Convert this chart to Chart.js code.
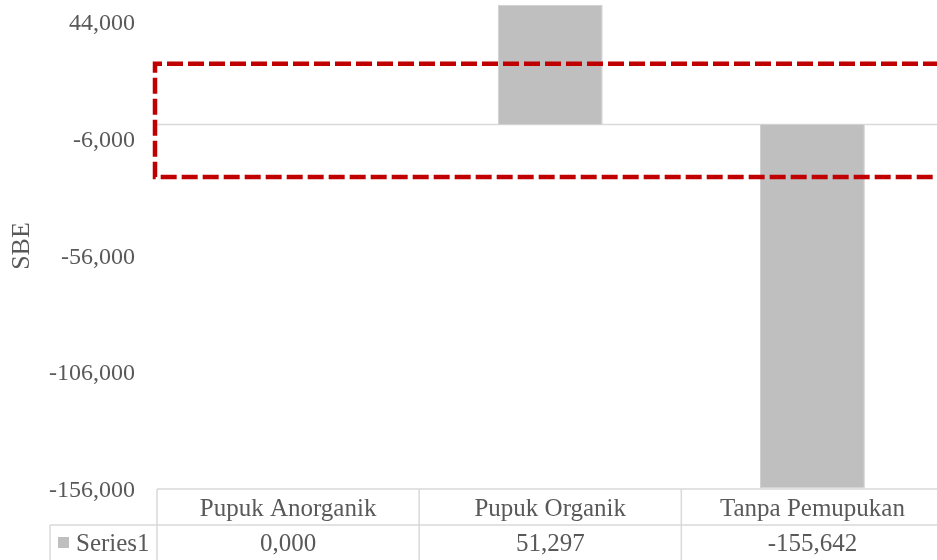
<!DOCTYPE html>
<html>
<head>
<meta charset="utf-8">
<script src="https://cdn.jsdelivr.net/npm/chart.js@4.4.1/dist/chart.umd.min.js"></script>
<style>
  html, body { margin: 0; padding: 0; background: #fff; overflow: hidden; }
  #wrap { width: 950px; height: 560px; }
</style>
</head>
<body>
<div id="wrap"><canvas id="sbeChart" width="950" height="560"></canvas></div>
<script>
const categories = ["Pupuk Anorganik", "Pupuk Organik", "Tanpa Pemupukan"];
const seriesName = "Series1";
const sbeValues = [0.000, 51.297, -155.642];
const tickValues = [-156, -106, -56, -6, 44];
// highlighted band (axis units)
const boxRange = [26, -22.5];

const textColor = "#595959";
const lineColor = "#d9d9d9";
const barColor = "#bfbfbf";
const serif = "'Liberation Serif', 'Times New Roman', serif";

const fmt = v => v.toFixed(3).replace(".", ",");

const zeroLine = {
  id: "zeroLine",
  beforeDatasetsDraw(chart) {
    const { ctx, chartArea, scales } = chart;
    const y = scales.y.getPixelForValue(0);
    ctx.save();
    ctx.strokeStyle = lineColor;
    ctx.lineWidth = 1.5;
    ctx.beginPath();
    ctx.moveTo(chartArea.left, y);
    ctx.lineTo(chart.width, y);
    ctx.stroke();
    ctx.restore();
  }
};

const dashedBox = {
  id: "dashedBox",
  afterDatasetsDraw(chart) {
    const { ctx, chartArea, scales } = chart;
    const top = scales.y.getPixelForValue(boxRange[0]);
    const bottom = scales.y.getPixelForValue(boxRange[1]);
    const left = chartArea.left - 2;
    ctx.save();
    ctx.strokeStyle = "#c00000";
    ctx.lineWidth = 4.5;
    ctx.setLineDash([16, 5]);
    ctx.beginPath();
    ctx.moveTo(chart.width + 10, top);
    ctx.lineTo(left, top);
    ctx.lineTo(left, bottom);
    ctx.lineTo(chart.width + 10, bottom);
    ctx.stroke();
    ctx.restore();
  }
};

const dataTable = {
  id: "dataTable",
  afterDraw(chart) {
    const { ctx, chartArea, scales } = chart;
    const x = scales.x;
    const step = (chartArea.right - chartArea.left) / categories.length;
    const headTop = chartArea.bottom;
    const rowH = 36;
    const rowTop = headTop + rowH;
    const keyLeft = 50;

    ctx.save();
    ctx.strokeStyle = lineColor;
    ctx.lineWidth = 1.5;
    ctx.beginPath();
    ctx.moveTo(chartArea.left, headTop);
    ctx.lineTo(chart.width, headTop);
    ctx.moveTo(keyLeft, rowTop);
    ctx.lineTo(chart.width, rowTop);
    ctx.moveTo(keyLeft, rowTop);
    ctx.lineTo(keyLeft, chart.height);
    for (let i = 0; i <= categories.length; i++) {
      const bx = chartArea.left + i * step;
      ctx.moveTo(bx, headTop);
      ctx.lineTo(bx, chart.height);
    }
    ctx.stroke();

    ctx.fillStyle = textColor;
    ctx.font = "25px " + serif;
    ctx.textAlign = "center";
    ctx.textBaseline = "middle";
    categories.forEach((c, i) => {
      const cx = x.getPixelForValue(i);
      ctx.fillText(c, cx, headTop + rowH / 2 + 2);
      ctx.fillText(fmt(sbeValues[i]), cx, rowTop + rowH / 2 + 1);
    });

    ctx.fillStyle = barColor;
    ctx.fillRect(58, rowTop + 12, 11, 11);
    ctx.fillStyle = textColor;
    ctx.textAlign = "left";
    ctx.fillText(seriesName, 76, rowTop + rowH / 2 + 1);
    ctx.restore();
  }
};

new Chart(document.getElementById("sbeChart"), {
  type: "bar",
  data: {
    labels: categories,
    datasets: [{
      label: seriesName,
      data: sbeValues,
      backgroundColor: barColor,
      borderColor: "#d0d0d0",
      borderWidth: 1,
      categoryPercentage: 1,
      barPercentage: 0.4
    }]
  },
  options: {
    responsive: false,
    animation: false,
    devicePixelRatio: 1,
    layout: { padding: { top: 3, right: 6.5, bottom: 71, left: 0 } },
    plugins: { legend: { display: false }, tooltip: { enabled: false } },
    scales: {
      x: { display: false },
      y: {
        min: -156,
        max: 52,
        afterBuildTicks(scale) {
          scale.ticks = tickValues.map(v => ({ value: v }));
        },
        afterFit(scale) {
          scale.width = 157;
          scale.paddingTop = 0;
          scale.paddingBottom = 0;
        },
        grid: { display: false, drawTicks: false },
        border: { display: false },
        ticks: {
          color: textColor,
          padding: 22,
          labelOffset: 2,
          font: { family: serif, size: 24 },
          callback: v => fmt(v)
        },
        title: {
          display: true,
          text: "SBE",
          color: textColor,
          font: { family: serif, size: 26 },
          padding: { top: 7, bottom: 0 }
        }
      }
    }
  },
  plugins: [zeroLine, dashedBox, dataTable]
});
</script>
</body>
</html>
